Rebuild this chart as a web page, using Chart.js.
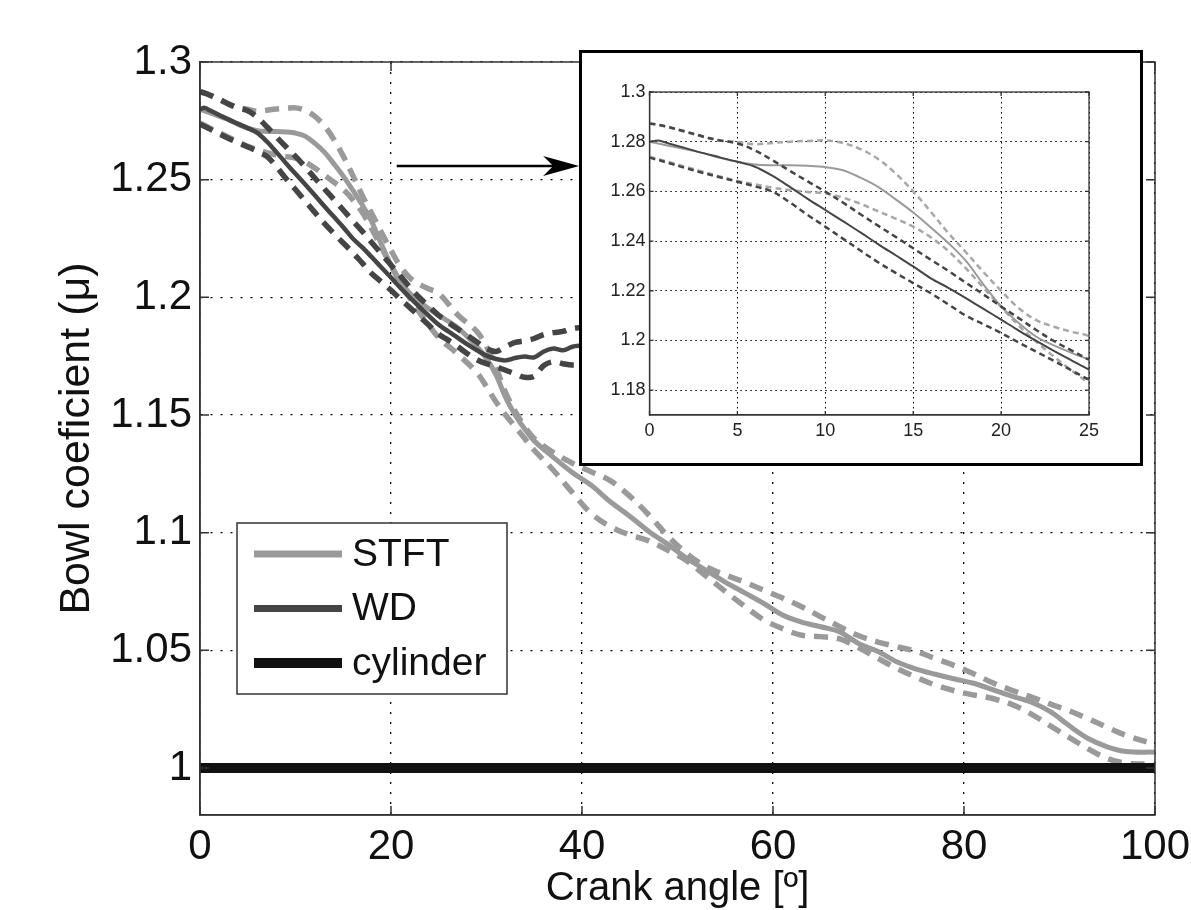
<!DOCTYPE html>
<html><head><meta charset="utf-8">
<script src="https://cdn.jsdelivr.net/npm/chart.js@4.4.1/dist/chart.umd.min.js"></script>
<style>
html,body{margin:0;padding:0;background:#fff;}
#wrap{position:relative;width:1191px;height:910px;background:#fff;}
#main{position:absolute;left:0;top:0;}
#insetBox{position:absolute;left:579px;top:50px;width:558px;height:410px;border:3px solid #000;background:#fff;}
#inset{display:block;}
</style></head><body>
<div id="wrap"><canvas id="main" width="1191" height="910"></canvas>
<div id="insetBox"><canvas id="inset" width="558" height="410"></canvas></div></div>
<script>
// ---------- data ----------
const stftAngle = [0,1,2,3,4,5,6,7,8,9,10,11,12,13,14,15,16,17,18,19,20,21,22,23,24,25,27,29,30,31,32,33,34,35,37,39,41,43,45,47,49,51,53,55,57,59,61,63,65,67,69,71,73,75,77,79,81,83,85,87,89,91,93,95,97,100];
const stftMean = [1.2800,1.2785,1.2770,1.2755,1.2735,1.2719,1.2708,1.2705,1.2705,1.2703,1.2698,1.2685,1.2655,1.2618,1.2568,1.2515,1.2455,1.2392,1.2320,1.2225,1.2137,1.2070,1.2015,1.1980,1.1950,1.1923,1.1870,1.1790,1.1740,1.1670,1.1575,1.1500,1.1440,1.1390,1.1320,1.1255,1.1200,1.1130,1.1070,1.1005,1.0950,1.0890,1.0840,1.0790,1.0745,1.0700,1.0650,1.0620,1.0600,1.0578,1.0528,1.0495,1.0450,1.0420,1.0398,1.0378,1.0360,1.0333,1.0305,1.0280,1.0240,1.0180,1.0125,1.0090,1.0070,1.0067];
const stftUpper = [1.2875,1.2860,1.2840,1.2820,1.2805,1.2799,1.2790,1.2795,1.2800,1.2803,1.2805,1.2795,1.2770,1.2730,1.2672,1.2600,1.2518,1.2432,1.2355,1.2275,1.2200,1.2130,1.2082,1.2055,1.2035,1.2017,1.1925,1.1854,1.1790,1.1700,1.1595,1.1515,1.1450,1.1400,1.1340,1.1295,1.1258,1.1220,1.1155,1.1075,1.0985,1.0910,1.0855,1.0820,1.0790,1.0756,1.0722,1.0685,1.0642,1.0600,1.0562,1.0535,1.0515,1.0495,1.0465,1.0435,1.0400,1.0362,1.0330,1.0302,1.0272,1.0243,1.0209,1.0172,1.0138,1.0100];
const stftLower = [1.2740,1.2720,1.2700,1.2680,1.2660,1.2642,1.2628,1.2615,1.2605,1.2598,1.2592,1.2575,1.2550,1.2520,1.2490,1.2458,1.2415,1.2360,1.2290,1.2212,1.2135,1.2060,1.1995,1.1935,1.1880,1.1829,1.1758,1.1680,1.1620,1.1555,1.1500,1.1450,1.1400,1.1350,1.1265,1.1170,1.1080,1.1025,1.0990,1.0965,1.0925,1.0880,1.0815,1.0750,1.0688,1.0630,1.0592,1.0564,1.0558,1.0548,1.0510,1.0465,1.0422,1.0385,1.0352,1.0328,1.0310,1.0295,1.0270,1.0230,1.0180,1.0130,1.0081,1.0040,1.0020,1.0017];

const wdAngle = [0,0.5,1,2,3,4,5,6,7,8,9,10,11,12,13,14,15,16,17,18,19,20,21,22,23,24,25,26,27,28,29,30,31,32,33,34,35,36,37,38,39,40];
const wdMean  = [1.2800,1.2805,1.2795,1.2775,1.2755,1.2737,1.2719,1.2699,1.2662,1.2617,1.2570,1.2525,1.2480,1.2435,1.2388,1.2343,1.2298,1.2250,1.2212,1.2170,1.2127,1.2084,1.2040,1.1998,1.1958,1.1920,1.1883,1.1855,1.1828,1.1800,1.1775,1.1752,1.1738,1.1732,1.1742,1.1748,1.1745,1.1770,1.1782,1.1775,1.1790,1.1795];
const wdUpper = [1.2873,1.2868,1.2860,1.2842,1.2822,1.2805,1.2793,1.2765,1.2725,1.2682,1.2640,1.2599,1.2555,1.2508,1.2462,1.2417,1.2371,1.2325,1.2280,1.2232,1.2185,1.2137,1.2090,1.2042,1.1998,1.1960,1.1923,1.1893,1.1865,1.1838,1.1810,1.1782,1.1770,1.1790,1.1808,1.1815,1.1825,1.1842,1.1850,1.1855,1.1868,1.1872];
const wdLower = [1.2736,1.2726,1.2716,1.2695,1.2675,1.2657,1.2639,1.2620,1.2599,1.2555,1.2505,1.2458,1.2410,1.2362,1.2315,1.2272,1.2231,1.2190,1.2145,1.2100,1.2065,1.2030,1.1992,1.1955,1.1918,1.1880,1.1843,1.1818,1.1790,1.1760,1.1735,1.1718,1.1705,1.1690,1.1675,1.1660,1.1665,1.1710,1.1726,1.1718,1.1712,1.1712];

const cylAngle = [0,100];
const cylValue = [1,1];

const mainXTicks = [0,20,40,60,80,100];
const mainYTicks = [1,1.05,1.1,1.15,1.2,1.25,1.3];
const insetXTicks = [0,5,10,15,20,25];
const insetYTicks = [1.18,1.2,1.22,1.24,1.26,1.28,1.3];

const legendLabels = ['STFT','WD','cylinder'];
const arrowFrom = {x:20.6, y:1.2558};
const arrowTo = {x:39.7, y:1.2558};

// ---------- helpers ----------
const FONT = '"Liberation Sans", Arial, Helvetica, sans-serif';
const toPts = (xs, ys) => xs.map((x,i) => ({x:x, y:ys[i]}));
const fmt = v => String(Number(v.toFixed(2)));
const C_STFT = '#9a9a9a', C_WD = '#454545', C_CYL = '#111111';

function buildDatasets(inset){
  const ds = [];
  if(!inset){
    ds.push({label:legendLabels[2], data:toPts(cylAngle,cylValue), borderColor:C_CYL, borderWidth:10, legend:true});
  }
  ds.push({label:legendLabels[1], data:toPts(wdAngle,wdMean), borderColor:C_WD, borderWidth: inset?2:4.5, legend:true});
  ds.push({label:'WD upper', data:toPts(wdAngle,wdUpper), borderColor:C_WD, borderWidth: inset?2.5:5.5, borderDash: inset?[6,4]:[14,9]});
  ds.push({label:'WD lower', data:toPts(wdAngle,wdLower), borderColor:C_WD, borderWidth: inset?2.5:5.5, borderDash: inset?[6,4]:[14,9]});
  ds.push({label:legendLabels[0], data:toPts(stftAngle,stftMean), borderColor:C_STFT, borderWidth: inset?2:5, legend:true});
  ds.push({label:'STFT upper', data:toPts(stftAngle,stftUpper), borderColor: inset?'#a8a8a8':C_STFT, borderWidth: inset?2.5:5.5, borderDash: inset?[6,4]:[14,9]});
  ds.push({label:'STFT lower', data:toPts(stftAngle,stftLower), borderColor: inset?'#a8a8a8':C_STFT, borderWidth: inset?2.5:5.5, borderDash: inset?[6,4]:[14,9]});
  ds.forEach(d => { d.pointRadius = 0; d.tension = 0.35; d.fill = false; d.borderCapStyle = 'butt'; });
  return ds;
}

// frame + inward ticks
const framePlugin = {
  id:'frame',
  afterDatasetsDraw(chart, args, opts){
    const {ctx, chartArea:a, scales:{x,y}} = chart;
    ctx.save();
    ctx.strokeStyle = opts.color; ctx.lineWidth = opts.width; ctx.setLineDash([]);
    ctx.strokeRect(a.left, a.top, a.right-a.left, a.bottom-a.top);
    const L = opts.tick;
    ctx.beginPath();
    x.ticks.forEach(t => { const px = x.getPixelForValue(t.value);
      ctx.moveTo(px, a.bottom); ctx.lineTo(px, a.bottom-L);
      ctx.moveTo(px, a.top); ctx.lineTo(px, a.top+L); });
    y.ticks.forEach(t => { const py = y.getPixelForValue(t.value);
      ctx.moveTo(a.left, py); ctx.lineTo(a.left+L, py);
      ctx.moveTo(a.right, py); ctx.lineTo(a.right-L, py); });
    ctx.stroke();
    ctx.restore();
  }
};

const annoPlugin = {
  id:'anno',
  afterDraw(chart){
    const {ctx, scales:{x,y}} = chart;
    // arrow
    const x1 = x.getPixelForValue(arrowFrom.x), y1 = y.getPixelForValue(arrowFrom.y);
    const x2 = x.getPixelForValue(arrowTo.x), y2 = y.getPixelForValue(arrowTo.y);
    const HL = 36, HW = 10;
    ctx.save();
    ctx.strokeStyle = '#000'; ctx.fillStyle = '#000'; ctx.lineWidth = 2.5;
    ctx.beginPath(); ctx.moveTo(x1,y1); ctx.lineTo(x2-HL*0.7,y2); ctx.stroke();
    ctx.beginPath(); ctx.moveTo(x2,y2); ctx.lineTo(x2-HL,y2-HW); ctx.lineTo(x2-HL*0.72,y2); ctx.lineTo(x2-HL,y2+HW); ctx.closePath(); ctx.fill();
    // legend box
    const bx = 237, by = 523, bw = 270, bh = 171;
    ctx.fillStyle = '#fff'; ctx.fillRect(bx,by,bw,bh);
    ctx.strokeStyle = '#333'; ctx.lineWidth = 1.5; ctx.strokeRect(bx,by,bw,bh);
    const rows = [554, 608.5, 663];
    legendLabels.forEach((lab,i) => {
      const d = chart.data.datasets.find(s => s.legend && s.label === lab);
      ctx.strokeStyle = d.borderColor;
      ctx.lineWidth = lab === 'cylinder' ? 10 : 7;
      ctx.beginPath(); ctx.moveTo(254, rows[i]); ctx.lineTo(342, rows[i]); ctx.stroke();
      ctx.fillStyle = '#111'; ctx.font = '39px ' + FONT; ctx.textBaseline = 'middle'; ctx.textAlign = 'left';
      ctx.fillText(lab, 352, rows[i] + 1);
    });
    ctx.restore();
  }
};

const bgPlugin = {
  id:'bg',
  beforeDraw(chart){ const c = chart.ctx; c.save(); c.fillStyle = '#fff'; c.fillRect(0,0,chart.width,chart.height); c.restore(); }
};

Chart.defaults.font.family = FONT;

// ---------- main chart ----------
new Chart(document.getElementById('main'), {
  type:'line',
  data:{ datasets: buildDatasets(false) },
  options:{
    responsive:false, animation:false, devicePixelRatio:1,
    layout:{ padding:{ left:0, top:62, right:36, bottom:0 } },
    plugins:{ legend:{display:false}, tooltip:{enabled:false}, frame:{color:'#333', width:1.5, tick:9} },
    scales:{
      x:{ type:'linear', min:0, max:100,
        afterBuildTicks: s => { s.ticks = mainXTicks.map(v => ({value:v})); },
        afterFit: s => { s.height = 95; s.paddingLeft = 0; s.paddingRight = 0; },
        grid:{ color:'#000', lineWidth:1.3, drawTicks:false },
        border:{ display:true, color:'#333', width:1.5, dash:[2,8] },
        ticks:{ font:{size:42}, color:'#111', padding:7, maxRotation:0, autoSkip:false, callback: v => String(v) },
        title:{ display:true, text:'Crank angle [º]', font:{size:40, lineHeight:1}, color:'#111', padding:{top:0,bottom:1} }
      },
      y:{ type:'linear', min:0.98, max:1.3,
        afterBuildTicks: s => { s.ticks = mainYTicks.map(v => ({value:v})); },
        afterFit: s => { s.width = 200; s.paddingTop = 0; s.paddingBottom = 0; },
        grid:{ color:'#000', lineWidth:1.3, drawTicks:false },
        border:{ display:true, color:'#333', width:1.5, dash:[2,8] },
        ticks:{ font:{size:42}, color:'#111', padding:8, autoSkip:false, callback: v => fmt(v) },
        title:{ display:true, text:'Bowl coeficient (μ)', font:{size:43, lineHeight:1}, color:'#111', padding:{top:56,bottom:0} }
      }
    }
  },
  plugins:[bgPlugin, framePlugin, annoPlugin]
});

// ---------- inset chart ----------
new Chart(document.getElementById('inset'), {
  type:'line',
  data:{ datasets: buildDatasets(true) },
  options:{
    responsive:false, animation:false, devicePixelRatio:1,
    layout:{ padding:{ left:0, top:39, right:51, bottom:0 } },
    plugins:{ legend:{display:false}, tooltip:{enabled:false}, frame:{color:'#333', width:1.3, tick:4} },
    scales:{
      x:{ type:'linear', min:0, max:25,
        afterBuildTicks: s => { s.ticks = insetXTicks.map(v => ({value:v})); },
        afterFit: s => { s.height = 48; s.paddingLeft = 0; s.paddingRight = 0; },
        grid:{ color:'#000', lineWidth:1, drawTicks:false },
        border:{ display:true, color:'#333', width:1.3, dash:[1.5,3.5] },
        ticks:{ font:{size:18}, color:'#222', padding:5, maxRotation:0, autoSkip:false, callback: v => String(v) }
      },
      y:{ type:'linear', min:1.17, max:1.3,
        afterBuildTicks: s => { s.ticks = insetYTicks.map(v => ({value:v})); },
        afterFit: s => { s.width = 67.5; s.paddingTop = 0; s.paddingBottom = 0; },
        grid:{ color:'#000', lineWidth:1, drawTicks:false },
        border:{ display:true, color:'#333', width:1.3, dash:[1.5,3.5] },
        ticks:{ font:{size:18}, color:'#222', padding:4, autoSkip:false, callback: v => fmt(v) }
      }
    }
  },
  plugins:[bgPlugin, framePlugin]
});
</script>
</body></html>
